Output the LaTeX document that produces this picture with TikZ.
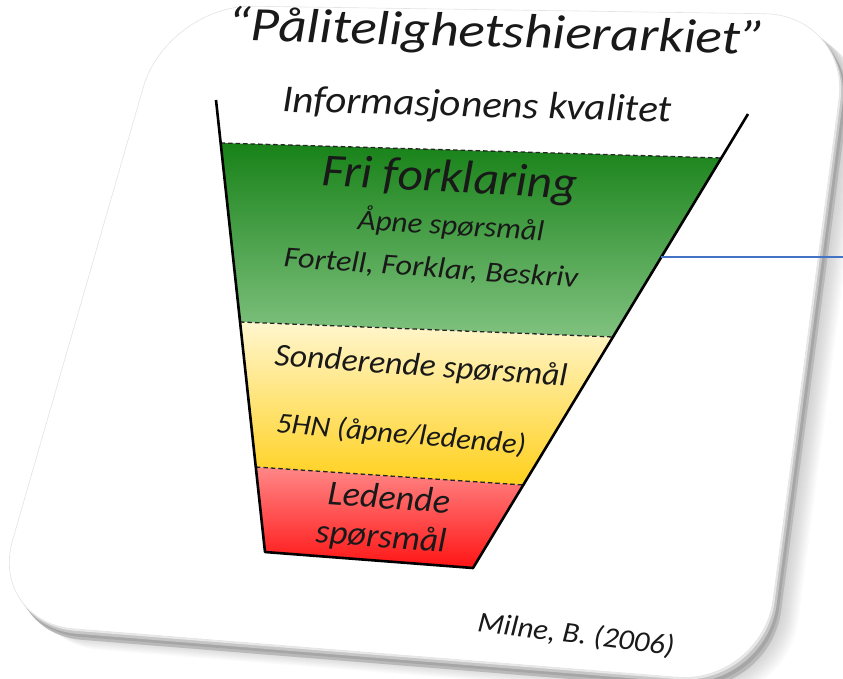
\documentclass[tikz,border=0pt]{standalone}
\usepackage{fontspec}
\usepackage{graphicx}
\setmainfont{Carlito}
\usetikzlibrary{calc}
\definecolor{gtop}{RGB}{24,130,24}
\definecolor{gbot}{RGB}{128,194,128}
\definecolor{ytop}{RGB}{255,246,206}
\definecolor{ybot}{RGB}{255,208,28}
\definecolor{rtop}{RGB}{255,135,135}
\definecolor{rbot}{RGB}{255,20,20}
\definecolor{blueline}{RGB}{68,114,196}
\tikzset{
  lbl/.style={inner sep=0pt, font=\itshape, text=black!90},
  funnelside/.style={line width=2.6pt, black, line join=round},
  divider/.style={line width=1.3pt, black!85, dash pattern=on 4.5pt off 3pt},
  cardpath/.style={rounded corners=85pt},
}
\newcommand{\cardshape}{(167,5) -- (850,15) -- (762,684) -- (-11,622) -- cycle}
\newcommand{\fsz}[1]{\fontsize{#1}{#1}\selectfont}
\begin{document}
\begin{tikzpicture}[x=1pt,y=-1pt]
\useasboundingbox (0,0) rectangle (843,679);
\clip (0,0) rectangle (843,679);
% soft shadow
\foreach \i in {1,...,14}{
  \fill[black, opacity=0.018, cardpath, shift={(1.8*\i,1.5*\i)}] \cardshape;
}
% card thickness / bevel
\fill[gray!55, cardpath, shift={(8,11)}] \cardshape;
\fill[gray!70, cardpath, shift={(6,8)}] \cardshape;
\fill[gray!45, cardpath, shift={(3.5,5)}] \cardshape;
\fill[gray!18, cardpath, shift={(1.5,2)}] \cardshape;
% card face
\fill[white, cardpath] \cardshape;
\draw[gray!22, line width=0.6pt, cardpath] \cardshape;

% funnel points
\coordinate (TL) at (216,100);
\coordinate (BL) at (265,552);
\coordinate (BR) at (473,568);
\coordinate (TR) at (748,114);
\coordinate (g1) at (220.7,143);
\coordinate (g2) at (721.3,158);
\coordinate (y1) at (240,322);
\coordinate (y2) at (612.9,337);
\coordinate (r1) at (255.8,467);
\coordinate (r2) at (523.7,485);

\shade[top color=gtop, bottom color=gbot] (g1) -- (g2) -- (y2) -- (y1) -- cycle;
\shade[top color=ytop, bottom color=ybot] (y1) -- (y2) -- (r2) -- (r1) -- cycle;
\shade[top color=rtop, bottom color=rbot] (r1) -- (r2) -- (BR) -- (BL) -- cycle;

\draw[divider] (g1) -- (g2);
\draw[divider] (y1) -- (y2);
\draw[divider] (r1) -- (r2);
\draw[funnelside] (TL) -- (BL) -- (BR) -- (TR);

% blue connector
\coordinate (bs) at (661,257);
\coordinate (be) at (843,257);
\draw[blueline, line width=2pt] (bs) -- (be);

% texts
\node[lbl, rotate=-1.5] (title) at (497,34) {\fsz{48}\scalebox{1.15}[1]{\itshape “Pålitelighetshierarkiet”}};
\node[lbl, rotate=-1.5] (info) at (477,107) {\fsz{38}\scalebox{1.08}[1]{\itshape Informasjonens kvalitet}};
\node[lbl, rotate=-3] (fri) at (450,180) {\fsz{46}\scalebox{1.07}[1]{\itshape Fri forklaring}};
\node[lbl, rotate=-3.5] (apne) at (451,225) {\fsz{29}\scalebox{1.07}[1]{\itshape Åpne spørsmål}};
\node[lbl, rotate=-4] (fortell) at (431,269) {\fsz{29}\scalebox{1.11}[1]{\itshape Fortell, Forklar, Beskriv}};
\node[lbl, rotate=-4] (sond) at (421,367) {\fsz{32}\scalebox{1.05}[1]{\itshape Sonderende spørsmål}};
\node[lbl, rotate=-5] (hn) at (401,435) {\fsz{29}\scalebox{1.05}[1]{\itshape 5HN (åpne/ledende)}};
\node[lbl, rotate=-4] (led) at (389,497) {\fsz{35}\scalebox{1.03}[1]{\itshape Ledende}};
\node[lbl, rotate=-4] (sp) at (381,538) {\fsz{34}\scalebox{1.04}[1]{\itshape spørsmål}};
\node[lbl, rotate=-7] (milne) at (576,635) {\fsz{29}\scalebox{1.06}[1]{\itshape Milne, B. (2006)}};
\end{tikzpicture}
\end{document}
